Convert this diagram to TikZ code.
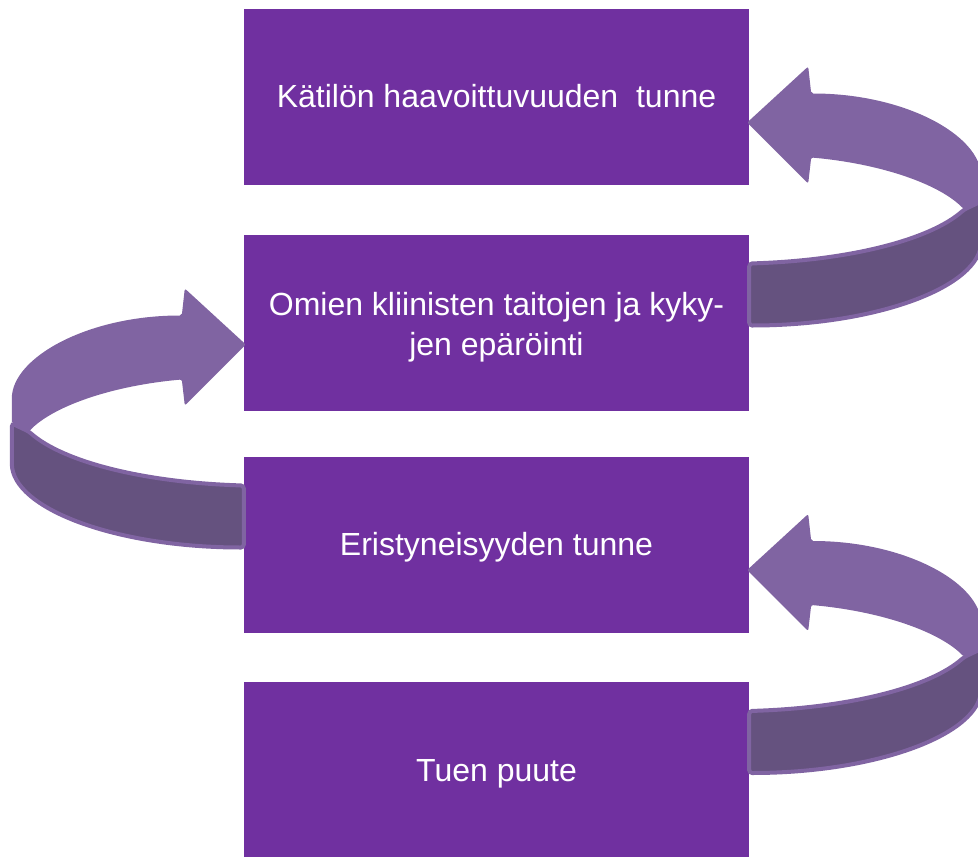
\documentclass[tikz,border=0pt]{standalone}
\usepackage{fontspec}
\setmainfont{Liberation Sans}
\usetikzlibrary{calc}

\definecolor{boxpurple}{HTML}{7030A0}
\definecolor{bandfront}{HTML}{8064A2}
\definecolor{bandback}{HTML}{65527F}

\tikzset{
  phase/.style={fill=boxpurple, minimum width=505, minimum height=176, inner sep=0, text=white, align=center, font=\fontsize{32}{40}\selectfont, text height=22, text depth=0},
  pics/looparrow/.style={code={
    \filldraw[fill=bandback, draw=bandfront, line width=4, rounded corners=3] (0,0) .. controls (101,-3) and (181,-24) .. (215,-54) -- (232,-62) -- (232,-25) .. controls (232,23) and (128,62) .. (0,62) -- cycle; % back of band
    \fill[bandfront, rounded corners=2] (-2,-141) -- (59,-197) -- (62,-170) .. controls (156,-170) and (232,-128) .. (232,-85) -- (232,-62) -- (215,-54) .. controls (190,-80) and (130,-100) .. (62,-106) -- (59,-80) -- cycle; % front of band with head
  }}
}

\begin{document}
\begin{tikzpicture}[x=1pt, y=-1pt]
\clip (0,0) rectangle (978,857); % page
\node[phase] (vulnerability) at (496.5,96.5) {Kätilön haavoittuvuuden\ \ tunne};
\node[phase, text height=65] (doubt) at (496.5,322.5) {Omien kliinisten taitojen ja kyky-\\jen epäröinti};
\node[phase] (isolation) at (496.5,544.5) {Eristyneisyyden tunne};
\node[phase] (support) at (496.5,770) {Tuen puute};
\pic at ($(doubt.east)+(0,-59)$) {looparrow}; % doubt -> vulnerability
\pic[xscale=-1] at ($(isolation.west)+(0,-59)$) {looparrow}; % isolation -> doubt
\pic at ($(support.east)+(0,-59)$) {looparrow}; % support -> isolation
\end{tikzpicture}
\end{document}
